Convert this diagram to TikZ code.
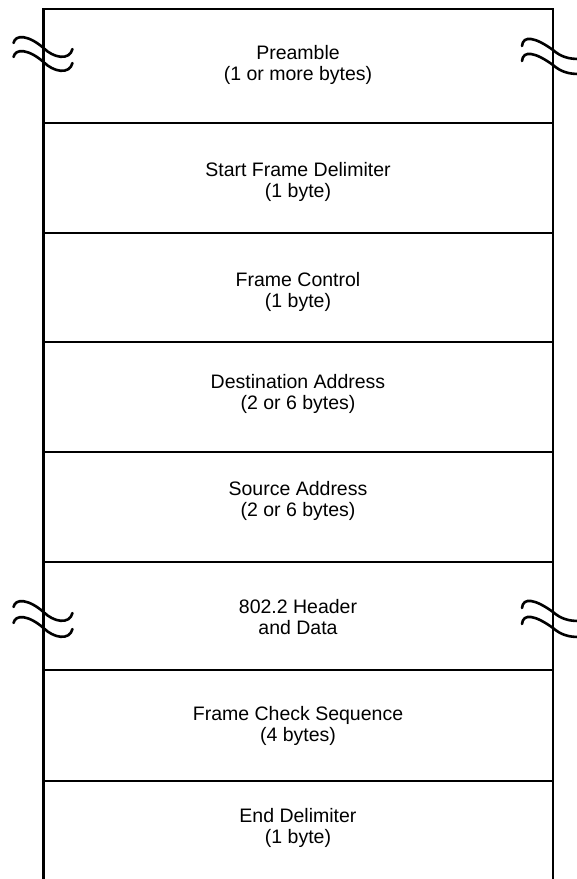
\documentclass[tikz,border=0pt]{standalone}
\usepackage{fontspec}
\setmainfont{Liberation Sans}
\begin{document}
\begin{tikzpicture}[x=1pt,y=-1pt,
  frameline/.style={line width=2.2pt, line cap=rect},
  wave/.style={line width=2.6pt, line cap=round},
  field/.style={align=center, inner sep=0pt, font=\fontsize{19.5}{21.5}\selectfont},
  lwave/.pic={\draw[wave] (-30,-5) .. controls (-28,-14) and (-15,-13) .. (0,0) .. controls (10,10) and (26,13) .. (29,1);},
  rwave/.pic={\draw[wave] (-31,-4) .. controls (-30,-15) and (-18,-13) .. (0,0) .. controls (8,7) and (16,9) .. (26,9);}
]
\fill[white] (0,0) rectangle (577,879);
\useasboundingbox (0,0) rectangle (577,879);

% frame
\draw[frameline] (43.5,879) -- (43.5,9) -- (553,9) -- (553,879);
\foreach \y in {123,233,342,452,562,670,781}
  \draw[frameline] (43.5,\y) -- (553,\y);

% fields
\node[field] (pre) at (298,65)  {Preamble\\(1 or more bytes)};
\node[field] (sfd) at (298,182) {Start Frame Delimiter\\(1 byte)};
\node[field] (fc)  at (298,292) {Frame Control\\(1 byte)};
\node[field] (da)  at (298,394) {Destination Address\\(2 or 6 bytes)};
\node[field] (sa)  at (298,501) {Source Address\\(2 or 6 bytes)};
\node[field] (hd)  at (298,617) {802.2 Header\\and Data};
\node[field] (fcs) at (298,726) {Frame Check Sequence\\(4 bytes)};
\node[field] (ed)  at (298,828) {End Delimiter\\(1 byte)};

% break marks
\pic at (43.5,48) {lwave};
\pic at (43.5,62) {lwave};
\pic at (553,50) {rwave};
\pic at (553,65) {rwave};
\pic at (43.5,612) {lwave};
\pic at (43.5,628) {lwave};
\pic at (553,612) {rwave};
\pic at (553,628) {rwave};
\end{tikzpicture}
\end{document}
